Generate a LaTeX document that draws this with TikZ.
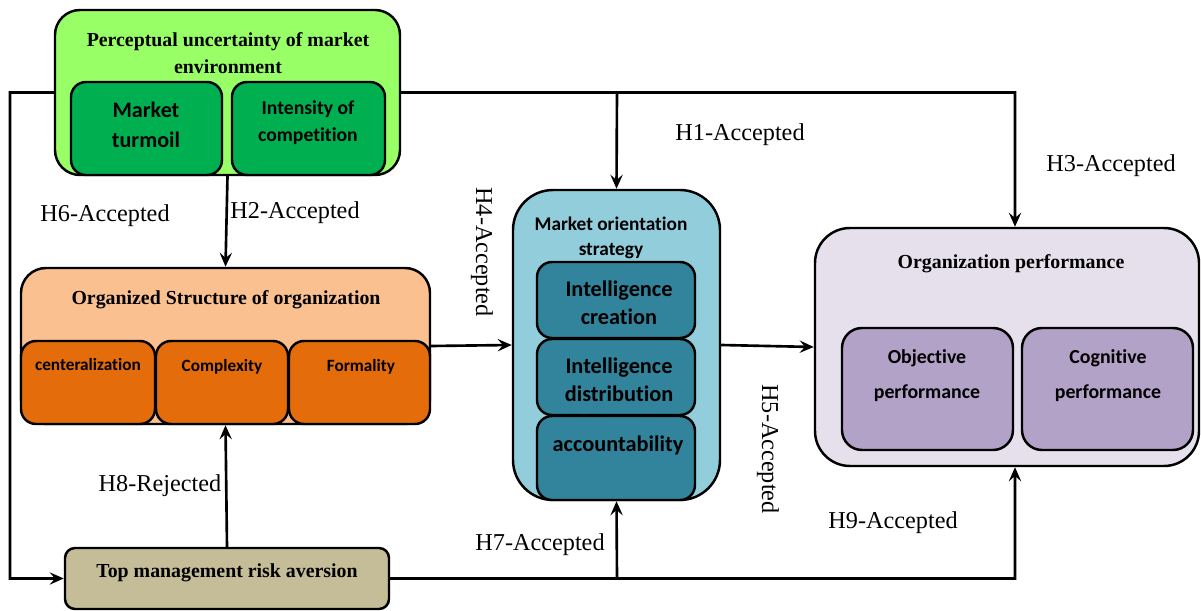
\documentclass[tikz,border=0pt]{standalone}
\usepackage{fontspec}
\setmainfont{Liberation Serif}
\newfontfamily\calibri[Ligatures=NoCommon]{Carlito}
\usetikzlibrary{fit,positioning,arrows.meta}
\tikzset{>={Stealth[length=8pt,width=7pt,inset=3pt]}}

\definecolor{lgreen}{HTML}{99FF66}
\definecolor{dgreen}{HTML}{00B050}
\definecolor{lpeach}{HTML}{FAC090}
\definecolor{dorange}{HTML}{E46C0A}
\definecolor{khaki}{HTML}{C4BD97}
\definecolor{lblue}{HTML}{92CDDC}
\definecolor{dteal}{HTML}{31849B}
\definecolor{llav}{HTML}{E5E0EC}
\definecolor{dlav}{HTML}{B3A2C7}

\tikzset{
  box/.style={draw=black,line width=1.4pt,inner sep=0pt},
  conn/.style={line width=1.5pt},
  hlabel/.style={font=\fontsize{13.8}{16}\selectfont},
  boxtitle/.style={font=\bfseries\fontsize{11.3}{15.3}\selectfont,align=center},
  intext/.style={font=\calibri\bfseries\fontsize{12.7}{16}\selectfont,align=center},
}

\begin{document}
\begin{tikzpicture}[x=0.02cm,y=-0.02cm]
\useasboundingbox (0,0) rectangle (1201,611);

% boxes
\node[box,fill=lgreen,rounded corners=0.5cm,fit={(55,10) (400,175)}] (pum) {};
\node[box,fill=dgreen,rounded corners=0.3cm,fit={(71,82) (222,175)}] (mtu) {};
\node[box,fill=dgreen,rounded corners=0.3cm,fit={(232,82) (385,175)}] (ico) {};

\node[box,fill=lpeach,rounded corners=0.5cm,fit={(21,268) (430,424)}] (oso) {};
\node[box,fill=dorange,rounded corners=0.3cm,fit={(21,341) (155,424)}] (cen) {};
\node[box,fill=dorange,rounded corners=0.3cm,fit={(156,341) (288,424)}] (cpx) {};
\node[box,fill=dorange,rounded corners=0.3cm,fit={(289,341) (430,424)}] (frm) {};

\node[box,fill=khaki,rounded corners=0.2cm,fit={(65,548) (389,609)}] (tmr) {};

\node[box,fill=lblue,rounded corners=0.8cm,fit={(513,190) (720,500)}] (mos) {};
\node[box,fill=dteal,rounded corners=0.3cm,fit={(537,262) (695,338)}] (icr) {};
\node[box,fill=dteal,rounded corners=0.3cm,fit={(537,339) (695,415)}] (idi) {};
\node[box,fill=dteal,rounded corners=0.3cm,fit={(537,416) (695,500)}] (acc) {};

\node[box,fill=llav,rounded corners=0.7cm,fit={(815,228) (1199,466)}] (op) {};
\node[box,fill=dlav,rounded corners=0.4cm,fit={(842,328) (1013,450)}] (obj) {};
\node[box,fill=dlav,rounded corners=0.4cm,fit={(1022,328) (1193,450)}] (cog) {};

% texts
\node[boxtitle] at (228,53.5) {Perceptual uncertainty of market\\environment};
\node[intext,font=\calibri\bfseries\fontsize{12.6}{17}\selectfont] at (146,125) {Market\\turmoil};
\node[intext,font=\calibri\bfseries\fontsize{11.2}{15.3}\selectfont] at (308,123) {Intensity of\\competition};
\node[boxtitle] at (226,300) {Organized Structure of organization};
\node[intext,font=\calibri\bfseries\fontsize{9.8}{12}\selectfont] at (88,365) {centeralization};
\node[intext,font=\calibri\bfseries\fontsize{9.8}{12}\selectfont] at (222,367) {Complexity};
\node[intext,font=\calibri\bfseries\fontsize{9.8}{12}\selectfont] at (361,367) {Formality};
\node[boxtitle] at (227,573) {Top management risk aversion};
\node[intext,font=\calibri\bfseries\fontsize{11}{14.2}\selectfont] at (611,237.5) {Market orientation\\strategy};
\node[intext,font=\calibri\bfseries\fontsize{12.7}{15.9}\selectfont] at (619,303) {Intelligence\\creation};
\node[intext,font=\calibri\bfseries\fontsize{12.7}{15.9}\selectfont] at (619,380) {Intelligence\\distribution};
\node[intext] at (618,445) {accountability};
\node[boxtitle] at (1011,264) {Organization performance};
\node[intext,font=\calibri\bfseries\fontsize{11.3}{20}\selectfont] at (927,375.5) {Objective\\performance};
\node[intext,font=\calibri\bfseries\fontsize{11.3}{20}\selectfont] at (1108,375.5) {Cognitive\\performance};

% connectors
\coordinate (lb) at (10,578.5);
\coordinate (j1) at (617,92.5);
\coordinate (j2) at (1015,92.5);
\coordinate (j3) at (617,578.5);
\coordinate (j4) at (1015,578.5);

\draw[conn,->] (pum.west) -| (lb) -- (tmr.west);
\draw[conn,->] (pum.east) -- (j2) -- (j2 |- op.north);
\draw[conn,->] (j1) -- (mos.north);
\draw[conn,->] (pum.south) -- (oso.north);
\draw[conn,->] (oso.east) -- (mos.west);
\draw[conn,->] (mos.east) -- (op.west);
\draw[conn,->] (tmr.north) -- (oso.south);
\draw[conn,->] (tmr.east) -- (j4) -- (j4 |- op.south);
\draw[conn,->] (j3) -- (mos.south);

% labels
\node[hlabel] at (740,135) {H1-Accepted};
\node[hlabel] at (1111,166) {H3-Accepted};
\node[hlabel] at (105,216) {H6-Accepted};
\node[hlabel] at (295,213) {H2-Accepted};
\node[hlabel,rotate=-90] at (482,252) {H4-Accepted};
\node[hlabel,rotate=-90] at (768,449) {H5-Accepted};
\node[hlabel] at (160,486) {H8-Rejected};
\node[hlabel] at (540,545) {H7-Accepted};
\node[hlabel] at (893,523) {H9-Accepted};
\end{tikzpicture}
\end{document}
